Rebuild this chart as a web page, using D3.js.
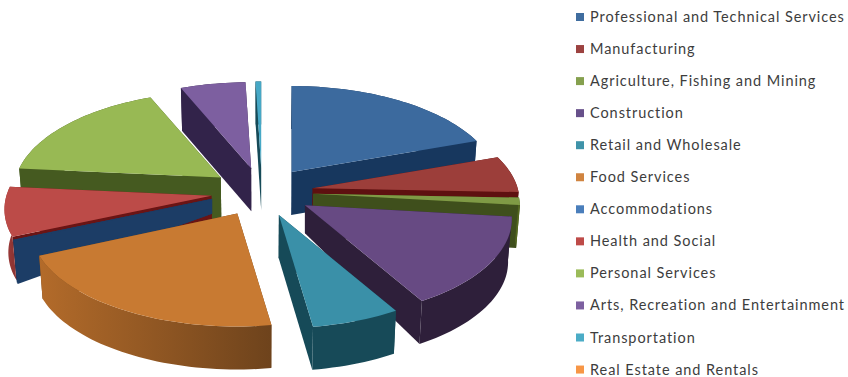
<!DOCTYPE html>
<html>
<head>
<meta charset="utf-8">
<script src="https://cdnjs.cloudflare.com/ajax/libs/d3/7.8.5/d3.min.js"></script>
<style>
  html, body { margin: 0; padding: 0; background: #fff; }
  svg { display: block; }
  .legend text { font-family: Lato, "Open Sans", sans-serif; font-size: 14.5px; fill: #3d3d3d; letter-spacing: 0.93px; }
</style>
</head>
<body>
<svg id="chart" width="848" height="377"></svg>
<script>
// Employment share by sector, in percent of the whole pie
const categories = [
  "Professional and Technical Services", "Manufacturing", "Agriculture, Fishing and Mining",
  "Construction", "Retail and Wholesale", "Food Services", "Accommodations", "Health and Social",
  "Personal Services", "Arts, Recreation and Entertainment", "Transportation", "Real Estate and Rentals"
];
const shares = [19.6, 6.0, 1.2, 14.8, 6.1, 20.6, 0.2, 8.0, 17.2, 5.8, 0.5, 0];

// Colours per sector: legend swatch, top face, cut faces, outer wall (near, far end of the gradient)
const swatchColors = ["#3f6d9f", "#9c4240", "#85a04e", "#67508a", "#3f93a9", "#d08440", "#4a7ebb", "#be4b48", "#9bbb59", "#7d60a0", "#4bacc6", "#f79646"];
const topColors    = ["#3c6a9e", "#9c3e3a", "#7f9a45", "#674a83", "#3a90a8", "#c87a32", "#1c3d66", "#bc4b48", "#98b954", "#7d5fa0", "#46a8c6", "#f79646"];
const cutColors    = ["#17375e", "#5e1010", "#3f4f1c", "#2e1f3a", "#164a58", "#6e431c", "#1c3d66", "#6a1414", "#455a20", "#32234a", "#164a58", "#974806"];
const wallLeft     = ["#17375e", "#5e1010", "#55691f", "#2e1f3a", "#174a58", "#b36b2a", "#1c3d66", "#a33d3b", "#455a20", "#32234a", "#164a58", "#974806"];
const wallRight    = ["#17375e", "#5e1010", "#4a5c20", "#2e1f3a", "#174a58", "#6e431c", "#1c3d66", "#8f3533", "#455a20", "#32234a", "#164a58", "#974806"];

// Back-to-front paint order of the exploded slices
const paintOrder = [10, 9, 0, 8, 1, 2, 7, 6, 3, 5, 4];
// Extrusion height at the point of a slice where it differs from the default
const tipDepth = { 3: 28, 6: 15 };
// Nudge of a slice's point so that its neighbour's cut face stays a thin band
const tipNudge = { 6: [-3, -3] };

// Projection of the tilted disc
const center = { x: 262, y: 192 };
const radiusX = 205, radiusY = 97.7, perspective = 0.136, explode = 0.25;
const depth = 43, wallTaper = 0.985;

const svg = d3.select("#chart");
const defs = svg.append("defs");

const slices = d3.pie().sort(null).value(d => d)(shares);

const scaleX = d3.scaleLinear().domain([-1, 1]).range([-radiusX, radiusX]);
const scaleY = d3.scaleLinear().domain([-1, 1]).range([-radiusY, radiusY]);

// Point on a slice's top face: unit-disc offset from its tip, foreshortened towards the back
function rimPoint(tip, angle, r) {
  const X = r * Math.sin(angle), Y = -r * Math.cos(angle);
  const w = 1 - perspective * Y;
  return [tip[0] + scaleX(X) / w, tip[1] + scaleY(Y) / w];
}
function drop(p, h) {
  return [center.x + (p[0] - center.x) * (h >= depth ? wallTaper : 1), p[1] + h];
}
const outline = d3.line();

paintOrder.forEach(i => {
  const s = slices[i];
  if (s.value <= 0) return;
  const mid = (s.startAngle + s.endAngle) / 2;
  const nudge = tipNudge[i] || [0, 0];
  const tip = [
    center.x + scaleX(explode * Math.sin(mid)) + nudge[0],
    center.y + scaleY(-explode * Math.cos(mid)) + nudge[1]
  ];
  const steps = Math.max(2, Math.ceil((s.endAngle - s.startAngle) / 0.03));
  const arc = d3.range(steps + 1).map(k =>
    rimPoint(tip, s.startAngle + (s.endAngle - s.startAngle) * k / steps, 1));
  const tipH = tipDepth[i] !== undefined ? tipDepth[i] : depth;
  const tipLow = drop(tip, tipH);
  const arcLow = arc.map(p => drop(p, depth));

  const g = svg.append("g").attr("class", "slice");

  const first = arc[0], firstLow = arcLow[0];
  const last = arc[arc.length - 1], lastLow = arcLow[arcLow.length - 1];
  const faces = [
    { pts: [tip, first, firstLow, tipLow], fill: cutColors[i] },
    { pts: [tip, last, lastLow, tipLow], fill: cutColors[i] }
  ].sort((a, b) => d3.mean(a.pts, p => p[1]) - d3.mean(b.pts, p => p[1]));

  faces.forEach(f => g.append("path").attr("d", outline(f.pts) + "Z").attr("fill", f.fill));

  // Outer wall, shaded across its width
  const gradId = "wall" + i;
  const xs = d3.extent(arc, p => p[0]);
  const grad = defs.append("linearGradient").attr("id", gradId)
    .attr("gradientUnits", "userSpaceOnUse")
    .attr("x1", xs[0]).attr("x2", xs[1]).attr("y1", 0).attr("y2", 0);
  grad.append("stop").attr("offset", 0).attr("stop-color", wallLeft[i]);
  grad.append("stop").attr("offset", 1).attr("stop-color", wallRight[i]);
  g.append("path")
    .attr("d", outline(arc.concat(arcLow.slice().reverse())) + "Z")
    .attr("fill", `url(#${gradId})`);

  // Top face
  g.append("path")
    .attr("d", outline([tip].concat(arc)) + "Z")
    .attr("fill", topColors[i]);
});

// Legend column
const legendTop = 17, legendStep = 32.05;
const legendY = d3.scalePoint().domain(categories)
  .range([legendTop, legendTop + legendStep * (categories.length - 1)]);
const legend = svg.append("g").attr("class", "legend");
const rows = legend.selectAll("g").data(categories).join("g")
  .attr("transform", d => `translate(576,${legendY(d)})`);
rows.append("rect").attr("x", 0).attr("y", -4).attr("width", 8).attr("height", 8)
  .attr("fill", (d, i) => swatchColors[i]);
rows.append("text").attr("x", 14).attr("y", 5).text(d => d);
</script>
</body>
</html>
